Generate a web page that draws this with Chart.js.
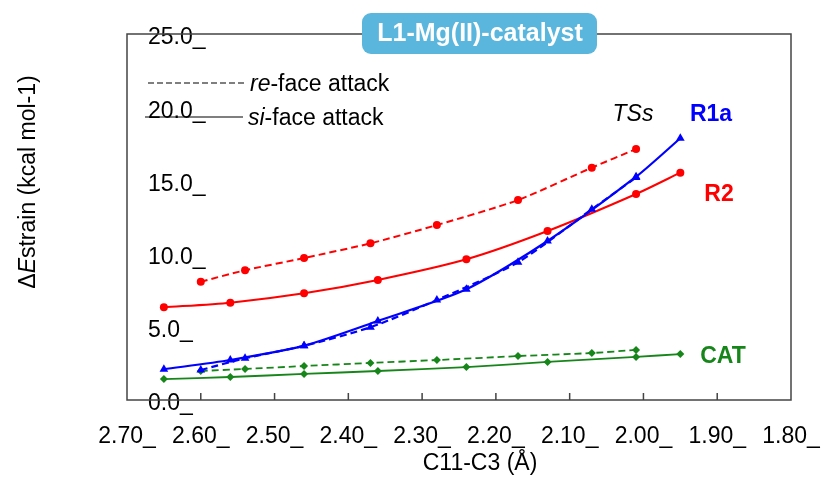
<!DOCTYPE html>
<html>
<head>
<meta charset="utf-8">
<script src="https://cdn.jsdelivr.net/npm/chart.js@4.4.0/dist/chart.umd.min.js"></script>
<style>
  html, body { margin: 0; padding: 0; background: #fff; }
</style>
</head>
<body>
<canvas id="myChart" width="821" height="480"></canvas>
<script>
// C11-C3 distances (Å) for the two attack modes
let distSi = [2.65, 2.56, 2.46, 2.36, 2.24, 2.13, 2.01, 1.95];
let distRe = [2.60, 2.54, 2.46, 2.37, 2.28, 2.17, 2.07, 2.01];

// strain energies (kcal/mol)
let r1aSi = [2.10, 2.73, 3.71, 5.40, 7.56, 10.86, 15.25, 17.88];
let r1aRe = [2.05, 2.85, 3.70, 4.97, 6.83, 9.41, 13.03, 15.20];
let r2Si = [6.33, 6.65, 7.29, 8.20, 9.61, 11.54, 14.07, 15.53];
let r2Re = [8.08, 8.86, 9.70, 10.70, 11.95, 13.66, 15.87, 17.14];
let catSi = [1.43, 1.57, 1.78, 1.98, 2.25, 2.60, 2.94, 3.14];
let catRe = [1.98, 2.12, 2.32, 2.53, 2.73, 3.00, 3.21, 3.42];

let xTicks = [2.7, 2.6, 2.5, 2.4, 2.3, 2.2, 2.1, 2.0, 1.9, 1.8];
let yTicks = [0, 5, 10, 15, 20, 25];

const FONT = "'Liberation Sans', Arial, sans-serif";
const BLUE = "#0000ff", RED = "#ff0000", GREEN = "#17861a";

Chart.defaults.font.family = FONT;
Chart.defaults.color = "#000";

function pts(xs, ys) {
    return xs.map((d, i) => ({ x: d, y: ys[i] }));
}

function series(label, xs, ys, color, style, dashed, radius, width) {
    return {
        label: label,
        data: pts(xs, ys),
        borderColor: color,
        backgroundColor: color,
        borderWidth: width,
        borderDash: dashed ? [7, 4] : [],
        pointStyle: style,
        pointRadius: radius,
        pointBorderWidth: 0,
        tension: 0.25,
        fill: false,
    };
}

function richText(ctx, parts, x, y, size) {
    let cx = x;
    parts.forEach(p => {
        ctx.font = p[1] + " " + size + "px " + FONT;
        ctx.fillText(p[0], cx, y);
        cx += ctx.measureText(p[0]).width;
    });
}

function richWidth(ctx, parts, size) {
    let w = 0;
    parts.forEach(p => {
        ctx.font = p[1] + " " + size + "px " + FONT;
        w += ctx.measureText(p[0]).width;
    });
    return w;
}

let decor = {
    id: "decor",
    beforeDatasetsDraw(chart) {
        const { ctx, chartArea: a, scales: { x } } = chart;
        ctx.save();
        ctx.strokeStyle = "#444";
        ctx.lineWidth = 1.5;
        ctx.strokeRect(a.left, a.top, a.right - a.left, a.bottom - a.top);
        // inward ticks on the bottom axis
        ctx.beginPath();
        xTicks.forEach(v => {
            let px = x.getPixelForValue(v);
            if (px > a.left + 2 && px < a.right - 2) {
                ctx.moveTo(px, a.bottom);
                ctx.lineTo(px, a.bottom - 7);
            }
        });
        ctx.stroke();

        // legend for line styles
        ctx.strokeStyle = "#000";
        ctx.lineWidth = 1.2;
        ctx.setLineDash([6, 3]);
        ctx.beginPath();
        ctx.moveTo(148, 83);
        ctx.lineTo(246, 83);
        ctx.stroke();
        ctx.setLineDash([]);
        ctx.beginPath();
        ctx.moveTo(145, 117);
        ctx.lineTo(243, 117);
        ctx.stroke();
        ctx.fillStyle = "#000";
        ctx.textBaseline = "middle";
        ctx.textAlign = "left";
        richText(ctx, [["re", "italic"], ["-face attack", "normal"]], 250, 85, 23);
        richText(ctx, [["si", "italic"], ["-face attack", "normal"]], 248, 119, 23);
        ctx.restore();
    },
    afterDraw(chart) {
        const { ctx } = chart;
        ctx.save();

        // title badge
        ctx.fillStyle = "#5ab6dd";
        ctx.beginPath();
        ctx.roundRect(362, 13, 235, 41, 9);
        ctx.fill();
        ctx.fillStyle = "#fff";
        ctx.font = "bold 25px " + FONT;
        ctx.textAlign = "center";
        ctx.textBaseline = "middle";
        ctx.fillText("L1-Mg(II)-catalyst", 480, 34);

        // series labels
        ctx.font = "italic 23px " + FONT;
        ctx.fillStyle = "#000";
        ctx.fillText("TSs", 633, 115);
        ctx.font = "bold 23px " + FONT;
        ctx.fillStyle = BLUE;
        ctx.fillText("R1a", 711, 115);
        ctx.fillStyle = RED;
        ctx.fillText("R2", 719, 195);
        ctx.fillStyle = GREEN;
        ctx.fillText("CAT", 723, 357);

        // x axis title
        ctx.fillStyle = "#000";
        ctx.font = "23px " + FONT;
        ctx.fillText("C11-C3 (Å)", 480, 464);

        // y axis title
        let parts = [["\u0394", "normal"], ["E", "italic"], ["strain (kcal mol-1)", "normal"]];
        ctx.translate(29, 182);
        ctx.rotate(-Math.PI / 2);
        ctx.textAlign = "left";
        let w = richWidth(ctx, parts, 23);
        richText(ctx, parts, -w / 2, 0, 23);
        ctx.restore();
    },
};

let ctx = document.getElementById("myChart").getContext("2d");
let myChart = new Chart(ctx, {
    type: "line",
    data: {
        datasets: [
            series("R1a si", distSi, r1aSi, BLUE, "triangle", false, 5, 2.2),
            series("R1a re", distRe, r1aRe, BLUE, "triangle", true, 5, 2.2),
            series("R2 si", distSi, r2Si, RED, "circle", false, 4, 2),
            series("R2 re", distRe, r2Re, RED, "circle", true, 4, 2),
            series("CAT si", distSi, catSi, GREEN, "rectRot", false, 4, 1.8),
            series("CAT re", distRe, catRe, GREEN, "rectRot", true, 4, 1.8),
        ],
    },
    options: {
        responsive: false,
        animation: false,
        layout: { padding: { left: 127, right: 30, top: 34, bottom: 0 } },
        plugins: {
            legend: { display: false },
            tooltip: { enabled: false },
        },
        scales: {
            x: {
                type: "linear",
                reverse: true,
                min: 1.8,
                max: 2.7,
                afterFit: s => { s.height = 80; s.paddingLeft = 0; s.paddingRight = 0; },
                afterBuildTicks: s => { s.ticks = xTicks.map(v => ({ value: v })); },
                grid: { display: false },
                border: { display: false },
                ticks: {
                    autoSkip: false,
                    maxRotation: 0,
                    padding: 15,
                    font: { size: 23 },
                    callback: v => v.toFixed(2) + "_",
                },
            },
            y: {
                min: 0,
                max: 25,
                afterFit: s => { s.width = 0; s.paddingTop = 0; s.paddingBottom = 0; },
                afterBuildTicks: s => { s.ticks = yTicks.map(v => ({ value: v })); },
                grid: { display: false },
                border: { display: false },
                ticks: {
                    mirror: true,
                    padding: 21,
                    labelOffset: 4,
                    font: { size: 23 },
                    callback: v => v.toFixed(1) + "_",
                },
            },
        },
    },
    plugins: [decor],
});
</script>
</body>
</html>
